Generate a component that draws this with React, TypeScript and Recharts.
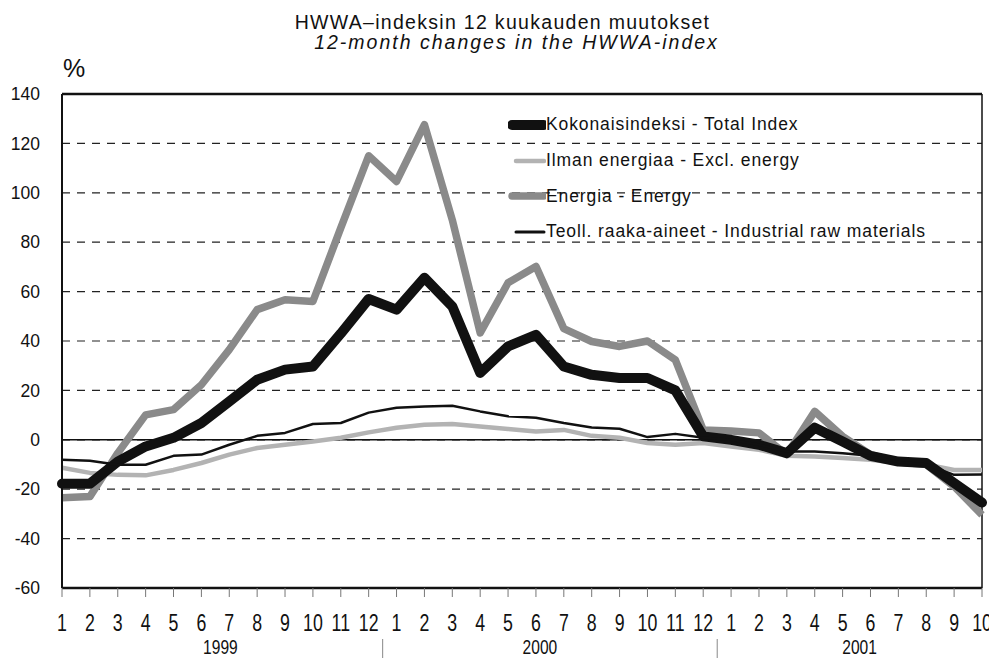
import React from 'react';
import { LineChart, Line, XAxis, YAxis, CartesianGrid, ReferenceLine, Legend } from 'recharts';

const years = ['1999', '2000', '2001'];
const monthsPerYear = [12, 12, 10];
const yTicks = [-60, -40, -20, 0, 20, 40, 60, 80, 100, 120, 140];

const totalIndex = [-17.8, -17.8, -8.8, -2.7, 0.8, 6.8, 15.5, 24.3, 28.4, 29.7, 43, 57,
  52.7, 65.6, 54, 27.1, 37.8, 42.5, 29.7, 26.3, 25, 25, 20, 1.4,
  0, -2, -5.4, 4.9, -0.7, -6.5, -8.8, -9.4, -17.5, -25.4];
const exclEnergy = [-11.3, -13.4, -14.2, -14.4, -12.2, -9.4, -6, -3.3, -2, -0.7, 0.8, 3,
  4.9, 6.1, 6.4, 5.4, 4.4, 3.4, 4, 1.6, 0.8, -1.3, -2, -1.3,
  -2.7, -4, -6.5, -6.8, -7.4, -8.1, -9.4, -10, -12.2, -12.2];
const energy = [-23.5, -23, -5.4, 10.1, 12.2, 22.3, 36.5, 52.7, 56.7, 56, 85.8, 115,
  104.6, 127.6, 89, 43.3, 63.6, 70.2, 45, 39.8, 37.8, 40, 32.4, 4,
  3.6, 2.8, -6, 11.5, 1.4, -6, -9, -10, -18.9, -30.4];
const industrial = [-8.1, -8.5, -10.1, -10.1, -6.5, -6, -2, 1.6, 2.8, 6.4, 6.8, 11,
  13, 13.5, 13.8, 11.5, 9.5, 8.9, 6.8, 5, 4.5, 1.1, 2.4, 0.8,
  0, -2, -4.7, -4.7, -5.4, -6.5, -9, -10, -14.2, -14];

const seriesNames = {
  total: 'Kokonaisindeksi - Total Index',
  excl: 'Ilman energiaa - Excl. energy',
  energy: 'Energia - Energy',
  industrial: 'Teoll. raaka-aineet - Industrial raw materials',
};

type Row = { key: string; year: string; month: number; total: number; excl: number; energy: number; industrial: number };
const data: Row[] = [];
{
  let i = 0;
  years.forEach((y, yi) => {
    for (let m = 1; m <= monthsPerYear[yi]; m++) {
      data.push({ key: `${y}-${m}`, year: y, month: m, total: totalIndex[i], excl: exclEnergy[i], energy: energy[i], industrial: industrial[i] });
      i++;
    }
  });
}

const FONT = '"Liberation Sans", Arial, Helvetica, sans-serif';

const legendItems = [
  { name: seriesNames.total, color: '#111', width: 10, len: 30 },
  { name: seriesNames.excl, color: '#b3b3b3', width: 4.5, len: 26 },
  { name: seriesNames.energy, color: '#8a8a8a', width: 7.5, len: 30 },
  { name: seriesNames.industrial, color: '#111', width: 3, len: 26 },
];

const LegendContent = () => (
  <div style={{ fontFamily: FONT, fontSize: 17.5, letterSpacing: 0.9, color: '#111' }}>
    {legendItems.map((it) => (
      <div key={it.name} style={{ height: 35.7, display: 'flex', alignItems: 'center' }}>
        <svg width={38} height={14} style={{ marginRight: 0 }}>
          <line x1={38 - it.len - 4} y1={7} x2={36} y2={7} stroke={it.color} strokeWidth={it.width} strokeLinecap="round" />
        </svg>
        <span>{it.name}</span>
      </div>
    ))}
  </div>
);

const MonthTick = (props: any) => {
  const { x, y, payload } = props;
  const row = data[payload.index];
  const els: any[] = [];
  els.push(
    <text key="m" transform={`translate(${x},${y + 32}) scale(0.74,1)`} textAnchor="middle" fontFamily={FONT} fontSize={24} fill="#111">
      {row ? row.month : ''}
    </text>
  );
  if (row) {
    const yi = years.indexOf(row.year);
    if (row.month === monthsPerYear[yi] && yi < years.length - 1) {
      els.push(<line key="s" x1={x + 14} x2={x + 14} y1={y + 40} y2={y + 62} stroke="#888" strokeWidth={1} />);
    }
    const anchors: Record<string, [number, number]> = { '1999': [6, 19], '2000': [6, 4], '2001': [5, 17] };
    const a = anchors[row.year];
    if (a && row.month === a[0]) {
      els.push(
        <text key="y" transform={`translate(${x + a[1]},${y + 55}) scale(0.76,1)`} textAnchor="middle" fontFamily={FONT} fontSize={20.5} fill="#111">
          {row.year}
        </text>
      );
    }
  }
  return <g>{els}</g>;
};

export default function App() {
  return (
    <div style={{ position: 'relative', width: 989, height: 650, background: '#fff' }}>
      <div style={{ position: 'absolute', left: 0, top: 4, width: 989, textAlign: 'center', fontFamily: FONT, fontSize: 19.5, letterSpacing: 1.3, lineHeight: '20px', color: '#111' }}>
        HWWA–indeksin 12 kuukauden muutokset
      </div>
      <div style={{ position: 'absolute', left: 14, top: 24, width: 989, textAlign: 'center', fontFamily: FONT, fontSize: 19.5, fontStyle: 'italic', letterSpacing: 2, lineHeight: '20px', color: '#111' }}>
        12-month changes in the HWWA-index
      </div>
      <div style={{ position: 'absolute', left: 55, top: 47, fontFamily: FONT, fontSize: 25, lineHeight: '26px', color: '#111' }}>%</div>
      <LineChart width={989} height={650} data={data} margin={{ top: 86, right: 15, bottom: 0, left: 0 }}>
        <CartesianGrid vertical={false} horizontal stroke="#222" strokeWidth={1.2} strokeDasharray="8 7" />
        <XAxis dataKey="key" interval={0} tick={<MonthTick />} tickSize={9} tickMargin={2}
          tickLine={{ stroke: '#777', strokeWidth: 1 }} axisLine={{ stroke: '#111', strokeWidth: 2.5 }} height={70} />
        <YAxis domain={[-60, 140]} ticks={yTicks} width={54} tickSize={6} tickLine={false} tickMargin={16}
          axisLine={{ stroke: '#111', strokeWidth: 2 }}
          tick={{ fontFamily: FONT, fontSize: 17.5, fill: '#111' }} />
        <ReferenceLine y={0} stroke="#111" strokeWidth={1.5} />
        <ReferenceLine y={140} stroke="#111" strokeWidth={2.5} />
        <ReferenceLine x={data[data.length - 1].key} stroke="#111" strokeWidth={1.5} />
        <Legend layout="vertical" verticalAlign="middle" align="center" content={<LegendContent />}
          wrapperStyle={{ position: 'absolute', left: 500, top: 99, width: 470, height: 143 }} />
        <Line type="linear" dataKey="energy" name={seriesNames.energy} stroke="#8a8a8a" strokeWidth={7.5} dot={false} strokeLinejoin="round" isAnimationActive={false} />
        <Line type="linear" dataKey="excl" name={seriesNames.excl} stroke="#b3b3b3" strokeWidth={4.5} dot={false} strokeLinejoin="round" isAnimationActive={false} />
        <Line type="linear" dataKey="total" name={seriesNames.total} stroke="#111" strokeWidth={10} dot={false} strokeLinejoin="round" strokeLinecap="round" isAnimationActive={false} />
        <Line type="linear" dataKey="industrial" name={seriesNames.industrial} stroke="#111" strokeWidth={2.5} dot={false} strokeLinejoin="round" isAnimationActive={false} />
      </LineChart>
    </div>
  );
}
